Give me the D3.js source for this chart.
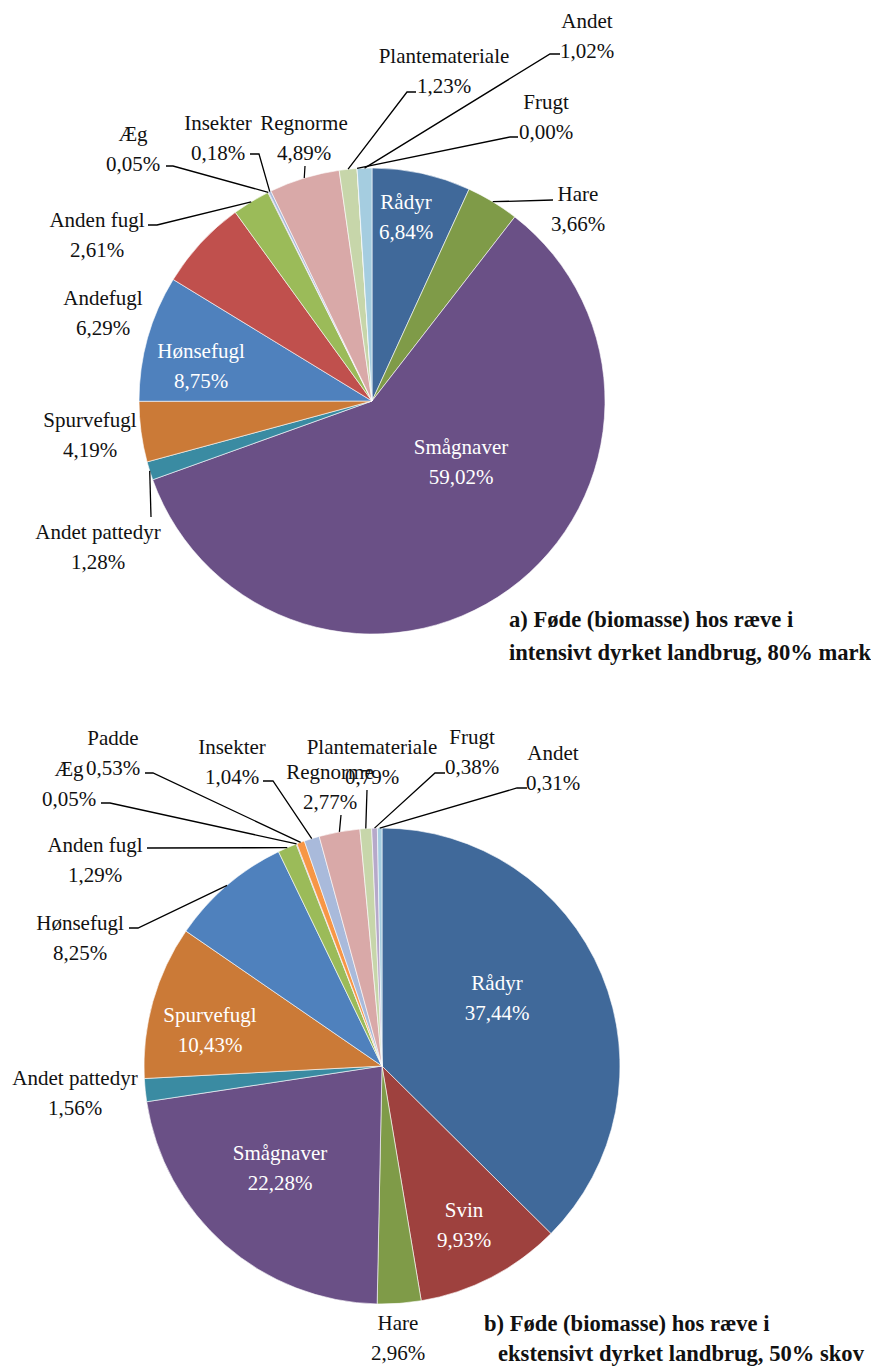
<!DOCTYPE html>
<html>
<head>
<meta charset="utf-8">
<script src="https://cdn.jsdelivr.net/npm/d3@7"></script>
<style>
  body { margin: 0; background: #fff; }
  svg text { font-family: "Liberation Serif", "DejaVu Serif", serif; }
  .lbl { font-size: 21px; fill: #111; }
  .lbl.in { fill: #fff; }
  .title { font-size: 22.6px; font-weight: bold; fill: #111; }
  .leader { fill: none; stroke: #000; stroke-width: 1.3px; }
</style>
</head>
<body>
<script>
// pie a) intensivt dyrket landbrug
var catsA = ["Rådyr", "Hare", "Smågnaver", "Andet pattedyr", "Spurvefugl", "Hønsefugl",
  "Andefugl", "Anden fugl", "Æg", "Insekter", "Regnorme", "Plantemateriale", "Frugt", "Andet"];
var valsA = [6.84, 3.66, 59.02, 1.28, 4.19, 8.75, 6.29, 2.61, 0.05, 0.18, 4.89, 1.23, 0.00, 1.02];

// pie b) ekstensivt dyrket landbrug
var catsB = ["Rådyr", "Svin", "Hare", "Smågnaver", "Andet pattedyr", "Spurvefugl", "Hønsefugl",
  "Anden fugl", "Æg", "Padde", "Insekter", "Regnorme", "Plantemateriale", "Frugt", "Andet"];
var valsB = [37.44, 9.93, 2.96, 22.28, 1.56, 10.43, 8.25, 1.29, 0.05, 0.53, 1.04, 2.77, 0.79, 0.38, 0.31];

var titleA = ["a) Føde (biomasse) hos ræve i", "intensivt dyrket landbrug, 80% mark"];
var titleB = ["b) Føde (biomasse) hos ræve i", "ekstensivt dyrket landbrug, 50% skov"];

var catColor = {
  "Rådyr": "#40699a", "Svin": "#9e413e", "Hare": "#7f9b48", "Smågnaver": "#6a5086",
  "Andet pattedyr": "#3a8ba2", "Spurvefugl": "#cb7a37", "Hønsefugl": "#4f81bd",
  "Andefugl": "#c0504d", "Anden fugl": "#9bbb59", "Æg": "#8064a2", "Padde": "#f79646",
  "Insekter": "#a9badb", "Regnorme": "#d9a9a8", "Plantemateriale": "#c7d6aa",
  "Frugt": "#b6a9ca", "Andet": "#a5cde0"
};

// label layout: centre of first line, inside flag, leader bend points (from edge outwards)
var layoutA = {
  "Rådyr": {x: 406, y: 202, inside: true},
  "Hare": {x: 578, y: 194, leader: [[553, 200]]},
  "Smågnaver": {x: 461, y: 447, inside: true},
  "Andet pattedyr": {x: 98, y: 532, leader: [[151, 517]]},
  "Spurvefugl": {x: 90, y: 420},
  "Hønsefugl": {x: 201, y: 351, inside: true},
  "Andefugl": {x: 103, y: 298},
  "Anden fugl": {x: 97, y: 220, leader: [[157, 225], [148, 225]]},
  "Æg": {x: 133, y: 134, leader: [[173, 166], [166, 166]]},
  "Insekter": {x: 218, y: 123, leader: [[259, 154], [250, 154]]},
  "Regnorme": {x: 304, y: 123, leader: [[305, 166]]},
  "Plantemateriale": {x: 444, y: 56, leader: [[407, 92], [416, 92]]},
  "Frugt": {x: 546, y: 102, leader: [[510, 137], [518, 137]]},
  "Andet": {x: 587, y: 21, leader: [[550, 54], [560, 54]]}
};
var layoutB = {
  "Rådyr": {x: 497, y: 983, inside: true},
  "Svin": {x: 464, y: 1210, inside: true},
  "Hare": {x: 398, y: 1323},
  "Smågnaver": {x: 280, y: 1153, inside: true},
  "Andet pattedyr": {x: 75, y: 1078},
  "Spurvefugl": {x: 210, y: 1015, inside: true},
  "Hønsefugl": {x: 80, y: 923, leader: [[138, 928], [129, 928]]},
  "Anden fugl": {x: 95, y: 845, leader: [[147, 848]]},
  "Æg": {x: 69, y: 769, leader: [[110, 803], [101, 803]]},
  "Padde": {x: 113, y: 738, leader: [[153, 773], [145, 773]]},
  "Insekter": {x: 232, y: 747, leader: [[273, 781], [263, 781]]},
  "Regnorme": {x: 330, y: 772, leader: [[341, 815]]},
  "Plantemateriale": {x: 372, y: 747, leader: [[367, 790]]},
  "Frugt": {x: 472, y: 737, leader: [[435, 773], [445, 773]]},
  "Andet": {x: 553, y: 753, leader: [[517, 788], [527, 788]]}
};

var fmt = d3.format(".2f");
function pct(v){ return fmt(v).replace(".", ",") + "%"; }

var svg = d3.select("body").append("svg")
    .attr("width", 871)
    .attr("height", 1367);

function drawPie(cats, vals, cx, cy, r, layout, title, tx, ty){
  var data = cats.map(function(c, i){ return {cat: c, value: vals[i]}; });
  var pie = d3.pie().sort(null).value(function(d){ return d.value; });
  var arc = d3.arc().innerRadius(0).outerRadius(r);
  var edge = d3.arc().innerRadius(r).outerRadius(r);
  var slices = pie(data);

  var g = svg.append("g").attr("transform", "translate(" + cx + "," + cy + ")");
  g.selectAll("path.slice")
      .data(slices)
    .enter().append("path")
      .attr("class", "slice")
      .attr("d", arc)
      .style("fill", function(d){ return catColor[d.data.cat]; })
      .style("stroke", "#fff")
      .style("stroke-width", 0.6);

  // leader lines
  slices.forEach(function(s){
    var lay = layout[s.data.cat];
    if(!lay.leader) return;
    var p = edge.centroid(s);
    var pts = [[cx + p[0], cy + p[1]]].concat(lay.leader);
    svg.append("path")
      .attr("class", "leader")
      .attr("d", d3.line()(pts));
  });

  // labels
  slices.forEach(function(s){
    var lay = layout[s.data.cat];
    var t = svg.append("text")
      .attr("class", "lbl" + (lay.inside ? " in" : ""))
      .attr("text-anchor", "middle");
    t.append("tspan").attr("x", lay.x).attr("y", lay.y).attr("dy", "0.35em").text(s.data.cat);
    t.append("tspan").attr("x", lay.x).attr("y", lay.y + 30).attr("dy", "0.35em").text(pct(s.data.value));
  });

  title.forEach(function(line, i){
    svg.append("text")
      .attr("class", "title")
      .attr("x", tx[i])
      .attr("y", ty[i])
      .attr("dy", "0.35em")
      .text(line);
  });
}

drawPie(catsA, valsA, 372, 401, 233, layoutA, titleA, [509, 509], [619, 652]);
drawPie(catsB, valsB, 382, 1066, 238, layoutB, titleB, [484, 498], [1323, 1353]);
</script>
</body>
</html>
